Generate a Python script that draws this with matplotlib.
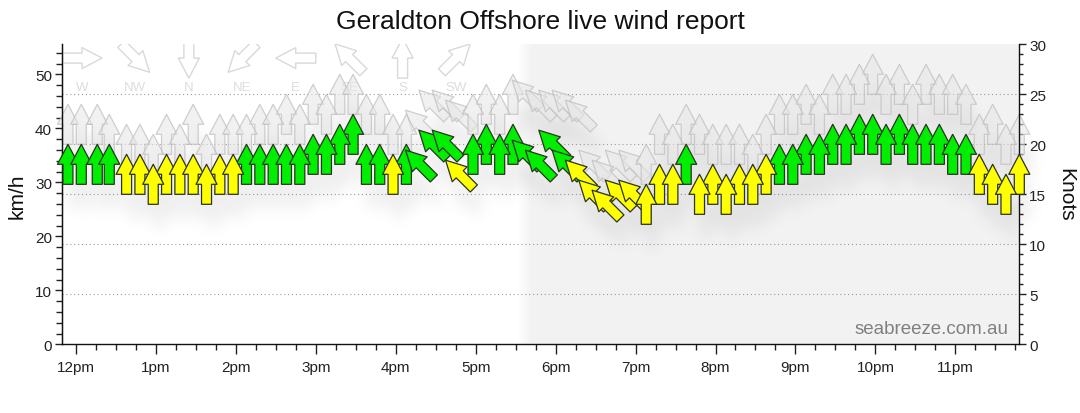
import numpy as np
import matplotlib
matplotlib.use("Agg")
import matplotlib.pyplot as plt
from matplotlib.collections import PolyCollection
from matplotlib.transforms import IdentityTransform
from matplotlib.ticker import MultipleLocator, FixedLocator

plt.rcParams['font.family'] = ['Liberation Sans', 'DejaVu Sans']

# ---------------- data ----------------
# observation times, minutes after 12pm
times = [-6, 4, 16, 25, 38, 48, 58, 68, 78, 88, 98, 108, 118,
         128, 138, 148, 158, 168, 178, 188, 198, 208, 218, 228, 238, 248,
         258, 268, 278, 288, 298, 308, 318, 328,
         338, 348, 358, 368, 378, 388, 398, 408, 418,
         428, 438, 448, 458, 468, 478, 488, 498, 508, 518, 528, 538, 548, 558,
         568, 578, 588, 598, 608, 618, 628, 638, 648, 658, 668, 678, 688, 698, 708]
# sustained wind speed, knots
wind_kn = [18, 18, 18, 18, 17, 17, 16, 17, 17, 17, 16, 17, 17,
           18, 18, 18, 18, 18, 19, 19, 20, 21, 18, 18, 17, 18,
           18, 20, 20, 17, 19, 20, 19, 20,
           19, 18, 20, 18, 17, 15, 14, 15, 15,
           14, 16, 16, 18, 15, 16, 15, 16, 16, 17, 18, 18, 19, 19,
           20, 20, 21, 21, 20, 21, 20, 20, 20, 19, 19, 17, 16, 15, 17]
# gust speed, knots
gust_kn = [22, 22, 22, 21, 20, 20, 19, 21, 20, 22, 19, 21, 21,
           21, 22, 22, 23, 22, 24, 23, 25, 25, 23, 23, 21, 21,
           22, 24, 24, 23, 23, 24, 23, 25,
           25, 24, 24, 24, 23, 18, 17, 18, 18,
           18, 21, 20, 22, 21, 20, 20, 20, 19, 21, 23, 23, 24, 23,
           25, 25, 26, 27, 25, 26, 24, 26, 25, 25, 24, 21, 22, 20, 21]
# direction the wind comes from
wind_dir = ['S'] * 26 + ['SE'] * 4 + ['S'] * 4 + ['SE'] * 9 + ['S'] * 29

hour_ticks = [0, 60, 120, 180, 240, 300, 360, 420, 480, 540, 600, 660]
hour_labels = ['12pm', '1pm', '2pm', '3pm', '4pm', '5pm', '6pm', '7pm',
               '8pm', '9pm', '10pm', '11pm']
legend_dirs = ['W', 'NW', 'N', 'NE', 'E', 'SE', 'S', 'SW']
night_start = 337   # minutes after 12pm (shaded from here)
x_range = (-10.7, 708)
kn_range = (0, 30)
KMH_PER_KN = 1.852

compass = {'N': 0, 'NE': 45, 'E': 90, 'SE': 135, 'S': 180,
           'SW': 225, 'W': 270, 'NW': 315}


def arrow_verts(from_deg):
    base = np.array([(0, 20), (10.5, 0), (5, 0), (5, -20), (-5, -20),
                     (-5, 0), (-10.5, 0)], float)
    a = np.deg2rad(-(from_deg + 180))
    R = np.array([[np.cos(a), -np.sin(a)], [np.sin(a), np.cos(a)]])
    return base @ R.T


def blur(a, sigma):
    r = int(3 * sigma)
    xs = np.arange(-r, r + 1)
    k = np.exp(-xs ** 2 / (2 * sigma ** 2))
    k /= k.sum()
    out = np.zeros_like(a)
    for i, w in zip(xs, k):
        out += w * np.roll(a, i, axis=0)
    out2 = np.zeros_like(a)
    for i, w in zip(xs, k):
        out2 += w * np.roll(out, i, axis=1)
    return out2


class ShadowFilter:
    def __init__(self, sigma=5.0, dx=3, dy=12, alpha=0.33, grey=0.35):
        self.sigma, self.dx, self.dy = sigma, dx, dy
        self.alpha, self.grey = alpha, grey

    def __call__(self, im, dpi):
        pad = 40
        a = np.pad(im[..., 3], pad)
        a = np.roll(a, self.dy, axis=0)
        a = np.roll(a, self.dx, axis=1)
        a = blur(a, self.sigma)
        out = np.zeros(a.shape + (4,))
        out[..., :3] = self.grey
        out[..., 3] = np.clip(a * self.alpha, 0, 1)
        return out, -pad, -pad


# ---------------- figure ----------------
fig = plt.figure(figsize=(10.8, 4.14), dpi=100)
L, R_, T, B = 61.7, 1019.3, 45.3, 345.3
ax = fig.add_axes([L / 1080, 1 - B / 414, (R_ - L) / 1080, (B - T) / 414])

# night shading
ax.axvspan(night_start + 5, x_range[1], color='#f2f2f2', lw=0, zorder=0)
grad = np.zeros((1, 64, 4))
grad[..., :3] = 0xf2 / 255
grad[..., 3] = np.linspace(0, 1, 64)
ax.imshow(grad, extent=(night_start - 5, night_start + 5, kn_range[0], kn_range[1]),
          aspect='auto', zorder=0, interpolation='bilinear')
ax.set_xlim(*x_range)
ax.set_ylim(*kn_range)

# grid lines (every 5 knots, excluding frame)
for g in range(5, 30, 5):
    ax.axhline(g, color='#9a9a9a', lw=0.8, ls=(0, (1, 2.5)), zorder=0.5)

# direction legend at top
leg_verts = [arrow_verts(compass[d]) for d in legend_dirs]
leg_offsets = [(0.0212 + i * 0.0558, 0.954) for i in range(len(legend_dirs))]
leg = PolyCollection(leg_verts, offsets=leg_offsets, offset_transform=ax.transAxes,
                     facecolors='none', edgecolors='#d9d9d9', linewidths=1.0, zorder=0.8)
leg.set_transform(IdentityTransform())
ax.add_collection(leg)
for (xo, _), d in zip(leg_offsets, legend_dirs):
    ax.text(xo, 0.858, d, transform=ax.transAxes, ha='center', va='center',
            fontsize=9.5, color='#dddddd', zorder=0.8)

# arrows
times_a = np.array(times, float)
wind_a = np.array(wind_kn, float)
gust_a = np.array(gust_kn, float)
dirs_a = [compass[d] for d in wind_dir]

order_w = sorted(range(len(times)), key=lambda i: (-wind_a[i], times_a[i]))
order_g = sorted(range(len(times)), key=lambda i: (-gust_a[i], times_a[i]))

all_verts = [arrow_verts(dirs_a[i]) for i in order_g] + [arrow_verts(dirs_a[i]) for i in order_w]
all_offs = [(times_a[i], gust_a[i]) for i in order_g] + [(times_a[i], wind_a[i]) for i in order_w]
shadow = PolyCollection(all_verts, offsets=all_offs, offset_transform=ax.transData,
                        facecolors='black', edgecolors='none', zorder=1.5)
shadow.set_transform(IdentityTransform())
shadow.set_agg_filter(ShadowFilter())
shadow.set_rasterized(True)
shadow.set_clip_on(False)
ax.add_collection(shadow)

gust = PolyCollection([arrow_verts(dirs_a[i]) for i in order_g],
                      offsets=[(times_a[i], gust_a[i]) for i in order_g],
                      offset_transform=ax.transData,
                      facecolors=(0.9, 0.9, 0.9, 0.55),
                      edgecolors=(0.74, 0.74, 0.74, 0.7), linewidths=0.9, zorder=2)
gust.set_transform(IdentityTransform())
gust.set_clip_on(False)
ax.add_collection(gust)

cols = ['#00ee00' if wind_a[i] >= 18 else '#ffff00' for i in order_w]
wind = PolyCollection([arrow_verts(dirs_a[i]) for i in order_w],
                      offsets=[(times_a[i], wind_a[i]) for i in order_w],
                      offset_transform=ax.transData,
                      facecolors=cols, edgecolors='#2a3320', linewidths=0.9, zorder=3)
wind.set_transform(IdentityTransform())
wind.set_clip_on(False)
ax.add_collection(wind)

# axes styling
ax.spines['top'].set_visible(False)
for s in ['left', 'right', 'bottom']:
    ax.spines[s].set_color('#111111')
    ax.spines[s].set_linewidth(1.0)

ax.xaxis.set_major_locator(FixedLocator(hour_ticks))
ax.set_xticklabels(hour_labels)
ax.xaxis.set_minor_locator(MultipleLocator(15))
ax.tick_params(axis='x', which='major', length=7, width=1, color='#222222',
               labelsize=11, labelcolor='#222222', pad=4)
ax.tick_params(axis='x', which='minor', length=4, width=1, color='#222222')

ax.yaxis.tick_right()
ax.yaxis.set_major_locator(MultipleLocator(5))
ax.yaxis.set_minor_locator(MultipleLocator(1))
ax.tick_params(axis='y', which='major', length=5, width=1, color='#222222',
               labelsize=11, labelcolor='#222222', pad=2)
ax.tick_params(axis='y', which='minor', length=3, width=1, color='#222222')

sec = ax.secondary_yaxis('left', functions=(lambda k: k * KMH_PER_KN,
                                            lambda v: v / KMH_PER_KN))
sec.yaxis.set_major_locator(MultipleLocator(10))
sec.yaxis.set_minor_locator(MultipleLocator(2))
sec.spines['left'].set_color('#111111')
sec.tick_params(axis='y', which='major', length=5, width=1, color='#222222',
                labelsize=11, labelcolor='#222222', pad=2)
sec.tick_params(axis='y', which='minor', length=4, width=1, color='#222222')

ax.text(0.9885, 0.024, 'seabreeze.com.au', transform=ax.transAxes, ha='right',
        va='bottom', fontsize=13.5, color='#808080', zorder=4)

fig.text(0.5, 1 - 22 / 414, 'Geraldton Offshore live wind report', ha='center',
         va='center', fontsize=19, color='#111111')
fig.text(17 / 1080, 1 - 196 / 414, 'km/h', rotation=90, ha='center', va='center',
         fontsize=15, color='#111111')
fig.text(1066 / 1080, 1 - 195 / 414, 'Knots', rotation=270, ha='center', va='center',
         fontsize=15, color='#111111')

fig.savefig('out.png', dpi=100)
